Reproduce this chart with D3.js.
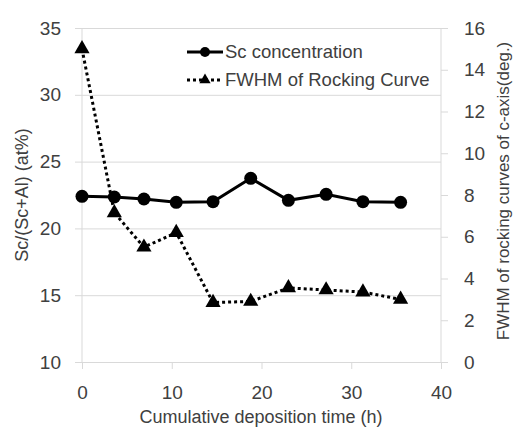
<!DOCTYPE html>
<html>
<head>
<meta charset="utf-8">
<script src="https://cdn.jsdelivr.net/npm/d3@7"></script>
<style>
body{margin:0;background:#fff;}
text{font-family:"Liberation Sans",Arial,sans-serif;fill:#404040;}
</style>
</head>
<body>
<svg id="chart"></svg>
<script>
// deposition time (h)
var times = [0,3.6,6.9,10.5,14.6,18.8,23.0,27.2,31.3,35.5]
// Sc/(Sc+Al) at%
var scConc = [22.4,22.35,22.2,21.95,22.0,23.75,22.1,22.55,22.0,21.95]
// FWHM rocking curve (deg.)
var fwhm = [15.0,7.15,5.5,6.2,2.85,2.9,3.55,3.45,3.35,3.0]
var xTicks = [0,10,20,30,40]
var yLeftTicks = [10,15,20,25,30,35]
var yRightTicks = [0,2,4,6,8,10,12,14,16]
var seriesNames = ["Sc concentration","FWHM of Rocking Curve"]

var screen = {width:517,height:430}
var margins = {left:82,right:76,top:28,bottom:68}
var graph = {
    width:screen.width-margins.left-margins.right,
    height:screen.height-margins.top-margins.bottom
}

var svg = d3.select("#chart")
.attr("width",screen.width)
.attr("height",screen.height)

var target = svg.append("g")
.attr("transform","translate("+margins.left+","+margins.top+")")

var xScale = d3.scaleLinear().domain([0,40]).range([0,graph.width])
var yLeft = d3.scaleLinear().domain([10,35]).range([graph.height,0])
var yRight = d3.scaleLinear().domain([0,16]).range([graph.height,0])

var grey = "#d9d9d9"
var tickFont = "19px"

// horizontal gridlines (left axis)
var leftAxis = target.append("g")
.call(d3.axisLeft(yLeft).tickValues(yLeftTicks).tickSize(-graph.width).tickPadding(21))
leftAxis.select(".domain").remove()
leftAxis.selectAll("line").attr("stroke",grey).attr("x1",-7)
leftAxis.selectAll("text").style("font-size",tickFont).attr("fill","#404040")

// frame lines
target.append("line").attr("x1",0).attr("x2",0).attr("y1",0).attr("y2",graph.height).attr("stroke",grey)
target.append("line").attr("x1",graph.width).attr("x2",graph.width).attr("y1",0).attr("y2",graph.height).attr("stroke",grey)

var bottomAxis = target.append("g")
.attr("transform","translate(0,"+graph.height+")")
.call(d3.axisBottom(xScale).tickValues(xTicks).tickSize(7).tickPadding(17))
bottomAxis.select(".domain").attr("stroke",grey)
bottomAxis.selectAll("line").attr("stroke",grey)
bottomAxis.selectAll("text").style("font-size",tickFont).attr("fill","#404040")

var rightAxis = target.append("g")
.attr("transform","translate("+graph.width+",0)")
.call(d3.axisRight(yRight).tickValues(yRightTicks).tickSize(7).tickPadding(16))
rightAxis.select(".domain").remove()
rightAxis.selectAll("line").attr("stroke",grey)
rightAxis.selectAll("text").style("font-size",tickFont).attr("fill","#404040")

// axis titles
svg.append("text")
.attr("transform","translate(28,195) rotate(-90)")
.attr("text-anchor","middle")
.style("font-size","18px")
.text("Sc/(Sc+Al) (at%)")

svg.append("text")
.attr("transform","translate(509,191) rotate(-90)")
.attr("text-anchor","middle")
.style("font-size","17px")
.text("FWHM of rocking curves of c-axis(deg.)")

svg.append("text")
.attr("x",261)
.attr("y",423)
.attr("text-anchor","middle")
.style("font-size","18px")
.text("Cumulative deposition time (h)")

// series
var scLine = d3.line()
.x(function(d,i){return xScale(times[i])})
.y(function(d){return yLeft(d)})

var fwLine = d3.line()
.x(function(d,i){return xScale(times[i])})
.y(function(d){return yRight(d)})

target.append("path")
.datum(fwhm)
.attr("d",fwLine)
.attr("fill","none")
.attr("stroke","#000")
.attr("stroke-width",3)
.attr("stroke-dasharray","3,3")

target.append("path")
.datum(scConc)
.attr("d",scLine)
.attr("fill","none")
.attr("stroke","#000")
.attr("stroke-width",3)

var tri = d3.symbol().type(d3.symbolTriangle).size(100)

target.selectAll(".tri")
.data(fwhm)
.enter()
.append("path")
.attr("class","tri")
.attr("d",tri)
.attr("transform",function(d,i){return "translate("+xScale(times[i])+","+yRight(d)+")"})
.attr("fill","#000")

target.selectAll(".dot")
.data(scConc)
.enter()
.append("circle")
.attr("class","dot")
.attr("cx",function(d,i){return xScale(times[i])})
.attr("cy",function(d){return yLeft(d)})
.attr("r",6.5)
.attr("fill","#000")

// legend
var legend = svg.append("g").attr("transform","translate(187,52)")
legend.append("line").attr("x1",0).attr("x2",36).attr("y1",0).attr("y2",0)
.attr("stroke","#000").attr("stroke-width",3)
legend.append("circle").attr("cx",18).attr("cy",0).attr("r",5).attr("fill","#000")
legend.append("text").attr("x",38).attr("y",6).style("font-size","18.5px").text(seriesNames[0])

legend.append("line").attr("x1",0).attr("x2",36).attr("y1",28).attr("y2",28)
.attr("stroke","#000").attr("stroke-width",3).attr("stroke-dasharray","3,3")
legend.append("path").attr("d",d3.symbol().type(d3.symbolTriangle).size(55))
.attr("transform","translate(18,28)").attr("fill","#000")
legend.append("text").attr("x",38).attr("y",34).style("font-size","18.5px").text(seriesNames[1])
</script>
</body>
</html>
